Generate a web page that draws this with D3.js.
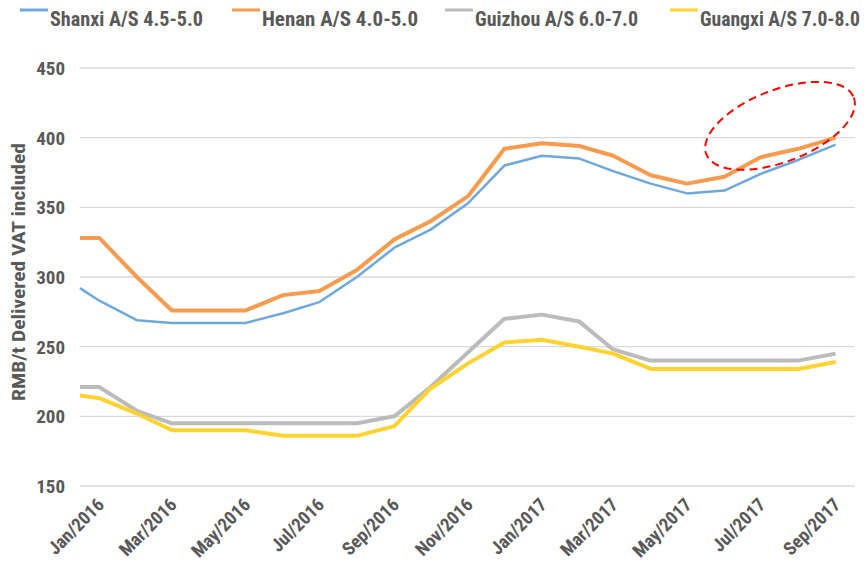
<!DOCTYPE html>
<html>
<head>
<meta charset="utf-8">
<script src="https://cdn.jsdelivr.net/npm/d3@7"></script>
<style>
  body { margin: 0; background: #fff; }
  text { font-family: "Liberation Sans Narrow", "Arial Narrow", "Roboto Condensed", "Liberation Sans", sans-serif; font-weight: bold; fill: #595959; }
</style>
</head>
<body>
<svg id="chart" width="865" height="573"></svg>
<script>
// dates of each observation (first one is mid-December 2015)
let dates = [
  '2015-12-16', '2016-01-01', '2016-02-01', '2016-03-01', '2016-04-01', '2016-05-01',
  '2016-06-01', '2016-07-01', '2016-08-01', '2016-09-01', '2016-10-01', '2016-11-01',
  '2016-12-01', '2017-01-01', '2017-02-01', '2017-03-01', '2017-04-01', '2017-05-01',
  '2017-06-01', '2017-07-01', '2017-08-01', '2017-09-01'
];

let shanxi  = [292, 283, 269, 267, 267, 267, 274, 282, 300, 321, 334, 353, 380, 387, 385, 376, 367, 360, 362, 374, 384, 395];
let henan   = [328, 328, 300, 276, 276, 276, 287, 290, 305, 327, 340, 358, 392, 396, 394, 387, 373, 367, 372, 386, 392, 400];
let guizhou = [221, 221, 204, 195, 195, 195, 195, 195, 195, 200, 221, 246, 270, 273, 268, 248, 240, 240, 240, 240, 240, 245];
let guangxi = [215, 213, 202, 190, 190, 190, 186, 186, 186, 193, 220, 238, 253, 255, 250, 245, 234, 234, 234, 234, 234, 239];

let seriesNames = ['Shanxi A/S 4.5-5.0', 'Henan A/S 4.0-5.0', 'Guizhou A/S 6.0-7.0', 'Guangxi A/S 7.0-8.0'];
let seriesColors = ['#6FA8DC', '#F79B4F', '#BBBBBB', '#FFD32F'];
let seriesWidths = [2.5, 4, 4, 4];

let yTicks = [150, 200, 250, 300, 350, 400, 450];
let xTickLabels = ['Jan/2016', 'Mar/2016', 'May/2016', 'Jul/2016', 'Sep/2016', 'Nov/2016',
                   'Jan/2017', 'Mar/2017', 'May/2017', 'Jul/2017', 'Sep/2017'];
let xTickDates = ['2016-01-01', '2016-03-01', '2016-05-01', '2016-07-01', '2016-09-01', '2016-11-01',
                  '2017-01-01', '2017-03-01', '2017-05-01', '2017-07-01', '2017-09-01'];

// dashed ellipse highlighting the latest Henan prices
let highlight = { date: '2017-07-17', value: 408.5 };

const parse = d3.utcParse('%Y-%m-%d');
const svg = d3.select('#chart');

const x = d3.scaleUtc()
  .domain([parse('2015-12-16'), parse('2017-09-17')])
  .range([80, 855]);

const y = d3.scaleLinear()
  .domain([150, 450])
  .range([486, 68]);

// gridlines
svg.append('g')
  .selectAll('line')
  .data(yTicks)
  .enter()
  .append('line')
  .attr('x1', x.range()[0])
  .attr('x2', x.range()[1])
  .attr('y1', d => y(d))
  .attr('y2', d => y(d))
  .attr('stroke', '#D9D9D9')
  .attr('stroke-width', 1.3);

// y tick labels
svg.append('g')
  .selectAll('text')
  .data(yTicks)
  .enter()
  .append('text')
  .attr('x', 65)
  .attr('y', d => y(d))
  .attr('dy', '0.36em')
  .attr('text-anchor', 'end')
  .style('font-size', '19px')
  .text(d => d);

// y axis title
svg.append('text')
  .attr('transform', 'translate(25,' + ((y(150) + y(450)) / 2 - 5) + ') rotate(-90)')
  .attr('text-anchor', 'middle')
  .style('font-size', '18px')
  .attr('textLength', 258)
  .attr('lengthAdjust', 'spacingAndGlyphs')
  .text('RMB/t Delivered VAT included');

// x tick labels, rotated
svg.append('g')
  .selectAll('text')
  .data(xTickDates)
  .enter()
  .append('text')
  .attr('transform', d => 'translate(' + (x(parse(d)) + 6) + ',506) rotate(-45)')
  .attr('text-anchor', 'end')
  .style('font-size', '18.5px')
  .text((d, i) => xTickLabels[i]);

// lines
let allSeries = [shanxi, henan, guizhou, guangxi];
let line = d3.line()
  .x((d, i) => x(parse(dates[i])))
  .y(d => y(d));

// draw lower series first so Shanxi/Henan sit on top like the original
let order = [2, 3, 0, 1];
svg.append('g')
  .selectAll('path')
  .data(order)
  .enter()
  .append('path')
  .attr('d', k => line(allSeries[k]))
  .attr('fill', 'none')
  .attr('stroke', k => seriesColors[k])
  .attr('stroke-width', k => seriesWidths[k])
  .attr('stroke-linejoin', 'round');

// highlight ellipse
svg.append('ellipse')
  .attr('cx', 0)
  .attr('cy', 0)
  .attr('rx', 79)
  .attr('ry', 36)
  .attr('transform', 'translate(' + x(parse(highlight.date)) + ',' + y(highlight.value) + ') rotate(-21)')
  .attr('fill', 'none')
  .attr('stroke', '#FF0000')
  .attr('stroke-width', 2)
  .attr('stroke-dasharray', '8,5');

// legend
let legendX = [20, 232, 445, 670];
let legend = svg.append('g')
  .selectAll('g')
  .data(seriesNames)
  .enter()
  .append('g')
  .attr('transform', (d, i) => 'translate(' + legendX[i] + ',0)');

legend.append('line')
  .attr('x1', 0)
  .attr('x2', 28)
  .attr('y1', 10)
  .attr('y2', 10)
  .attr('stroke', (d, i) => seriesColors[i])
  .attr('stroke-width', 3);

legend.append('text')
  .attr('x', 30)
  .attr('y', 26)
  .style('font-size', '20px')
  .attr('textLength', (d, i) => [153, 156, 163, 160][i])
  .attr('lengthAdjust', 'spacingAndGlyphs')
  .text(d => d);
</script>
</body>
</html>
